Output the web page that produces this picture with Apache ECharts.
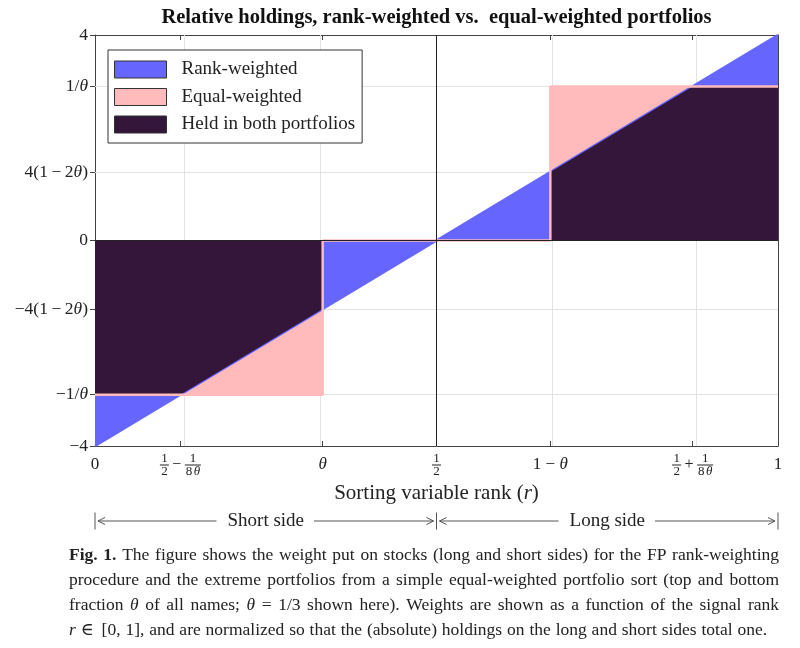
<!DOCTYPE html>
<html><head><meta charset="utf-8">
<script src="https://cdn.jsdelivr.net/npm/echarts@6/dist/echarts.min.js"></script>
<style>html,body{margin:0;padding:0;background:#fff}#c{width:800px;height:648px}</style>
</head><body><div id="c"></div>
<script>
// ---------- data ----------
const seriesNames = ['Rank-weighted', 'Equal-weighted', 'Held in both portfolios'];
const rankX = [0, 1];
const rankY = [-4, 4];
const equalX = [0, 1/3, 1/3, 2/3, 2/3, 1];
const equalY = [-3, -3, 0, 0, 3, 3];
const bothX = [0, 0.125, 1/3, 1/3, 2/3, 2/3, 0.875, 1];
const bothY = [-3, -3, -4/3, 0, 0, 4/3, 3, 3];
const xTickValues = [0, 0.125, 1/3, 0.5, 2/3, 0.875, 1];
const xTickLabels = ['0', '1/2 − 1/8θ', 'θ', '1/2', '1 − θ', '1/2 + 1/8θ', '1'];
const xInnerTicks = [0.125, 1/3, 2/3, 0.875];
const yTickValues = [-4, -3, -4/3, 0, 4/3, 3, 4];
const yTickLabels = ['−4', '−1/θ', '−4(1\u2009−\u20092θ)', '0', '4(1\u2009−\u20092θ)', '1/θ', '4'];
const yInnerTicks = [-3, -4/3, 4/3, 3];
const titleText = 'Relative holdings, rank-weighted vs.  equal-weighted portfolios';
const sideLabels = ['Short side', 'Long side'];
const captionLines = [
  '{b|Fig.} {b|1.} The figure shows the weight put on stocks (long and short sides) for the FP rank-weighting',
  'procedure and the extreme portfolios from a simple equal-weighted portfolio sort (top and bottom',
  'fraction {i|θ} of all names; {i|θ} = 1/3 shown here). Weights are shown as a function of the signal rank',
  '{i|r} ∈ [0, 1], and are normalized so that the (absolute) holdings on the long and short sides total one.'
];

// ---------- styling ----------
const SERIF = '"Liberation Serif", "DejaVu Serif", serif';
const BLUE = '#6666ff', PINK = '#ffbbbb', DARK = '#33163a', INK = '#222', AXIS = '#444', GRID = '#e3e3e3';
const pairs = (xs, ys) => xs.map((x, i) => [x, ys[i]]);

// x tick labels with stacked fractions (rich text)
const xRich = {
  s: {fontFamily: SERIF, fontSize: 17, lineHeight: 23, color: INK},
  si: {fontFamily: SERIF, fontSize: 17, fontStyle: 'italic', lineHeight: 23, color: INK},
  op: {fontFamily: SERIF, fontSize: 16, width: 16, align: 'center', lineHeight: 2, color: INK},
  sp: {fontFamily: SERIF, fontSize: 1, width: 16, lineHeight: 11},
  spb: {fontFamily: SERIF, fontSize: 1, width: 16, lineHeight: 11}
};
const CH = 6.8;
function ensure(name, style) { if (!xRich[name]) xRich[name] = style; return name; }
function xLabelRich(label) {
  if (label.indexOf('/') < 0) {
    return label.split(/(θ)/).filter(p => p.length).map(p => p === 'θ' ? '{si|θ}' : '{s|' + p + '}').join('');
  }
  let top = '', mid = '', bot = '';
  label.split(' ').forEach(t => {
    if (t.indexOf('/') >= 0) {
      const [n, d] = t.split('/');
      const w = Math.round(Math.max(n.length, d.length) * CH + 2);
      top += '{' + ensure('n' + w, {fontFamily: SERIF, fontSize: 13, width: w, align: 'center', lineHeight: 11, color: INK}) + '|' + n + '}';
      mid += '{' + ensure('b' + w, {width: w, height: 1, lineHeight: 2, fontSize: 1, backgroundColor: INK}) + '| }';
      const cw = w / d.length;
      d.split('').forEach(ch => {
        const it = ch === 'θ';
        const key = 'd' + String(cw).replace('.', '_') + (it ? 'i' : '');
        bot += '{' + ensure(key, {fontFamily: SERIF, fontSize: 13, fontStyle: it ? 'italic' : 'normal', width: cw, align: 'center', lineHeight: 11, color: INK}) + '|' + ch + '}';
      });
    } else {
      top += '{sp| }'; mid += '{op|' + t + '}'; bot += '{spb| }';
    }
  });
  return top + '\n' + mid + '\n' + bot;
}
// pre-build all rich styles before the option is handed over
const xLabelMarkup = xTickLabels.map(xLabelRich);
function yLabelRich(label) {
  return label.split(/(θ)/).filter(p => p.length).map(p => p === 'θ' ? '{yi|θ}' : '{y|' + p + '}').join('');
}
function lookup(vals, labels, v) {
  for (let i = 0; i < vals.length; i++) if (Math.abs(vals[i] - v) < 1e-6) return labels[i];
  return '';
}

const chart = echarts.init(document.getElementById('c'));
const option = {
  animation: false,
  backgroundColor: '#fff',
  grid: {left: 95, right: 22, top: 35, bottom: 202, containLabel: false},
  legend: {
    orient: 'vertical', left: 108, top: 50,
    data: seriesNames, icon: 'rect', itemWidth: 52, itemHeight: 17, itemGap: 8.5,
    padding: [10, 7, 9, 6],
    backgroundColor: '#fff', borderColor: '#333', borderWidth: 1, borderRadius: 0,
    itemStyle: {borderColor: '#333', borderWidth: 1},
    textStyle: {fontFamily: SERIF, fontSize: 19, lineHeight: 17, color: INK, padding: [0, 0, 0, 10]},
    selectedMode: false
  },
  xAxis: [{
    type: 'value', min: 0, max: 1, position: 'bottom',
    axisLine: {show: true, onZero: false, lineStyle: {color: AXIS, width: 1}},
    axisTick: {show: true, inside: true, length: 5, customValues: xInnerTicks, lineStyle: {color: AXIS}},
    axisLabel: {
      customValues: xTickValues, margin: 7, showMinLabel: true, showMaxLabel: true,
      formatter: v => lookup(xTickValues, xLabelMarkup, v), rich: xRich
    },
    splitLine: {show: false},
    name: '{a|Sorting variable rank (}{ai|r}{a|)}', nameLocation: 'middle', nameGap: 36,
    nameTextStyle: {rich: {
      a: {fontFamily: SERIF, fontSize: 21, color: INK},
      ai: {fontFamily: SERIF, fontSize: 21, fontStyle: 'italic', color: INK}
    }}
  }, {
    type: 'value', min: 0, max: 1, position: 'top',
    axisLine: {show: true, onZero: false, lineStyle: {color: AXIS, width: 1}},
    axisTick: {show: true, inside: true, length: 5, customValues: xInnerTicks, lineStyle: {color: AXIS}},
    axisLabel: {show: false}, splitLine: {show: false}
  }],
  yAxis: [{
    type: 'value', min: -4, max: 4, position: 'left',
    axisLine: {show: true, onZero: false, lineStyle: {color: AXIS, width: 1}},
    axisTick: {show: true, inside: false, length: 5, customValues: yTickValues, lineStyle: {color: AXIS}},
    axisLabel: {
      customValues: yTickValues, margin: 7, showMinLabel: true, showMaxLabel: true,
      formatter: v => yLabelRich(lookup(yTickValues, yTickLabels, v)),
      rich: {
        y: {fontFamily: SERIF, fontSize: 17.5, color: INK},
        yi: {fontFamily: SERIF, fontSize: 17.5, fontStyle: 'italic', color: INK}
      }
    },
    splitLine: {show: false}
  }, {
    type: 'value', min: -4, max: 4, position: 'right',
    axisLine: {show: true, onZero: false, lineStyle: {color: AXIS, width: 1}},
    axisTick: {show: true, inside: true, length: 5, customValues: yInnerTicks, lineStyle: {color: AXIS}},
    axisLabel: {show: false}, splitLine: {show: false}
  }],
  series: [
    {
      name: 'gridlines', type: 'line', data: [], z: 1, silent: true,
      markLine: {
        silent: true, symbol: ['none', 'none'], z: 1, animation: false,
        label: {show: false}, lineStyle: {color: GRID, type: 'solid', width: 1},
        data: xInnerTicks.map(v => ({xAxis: v})).concat(yInnerTicks.map(v => ({yAxis: v})))
      }
    },
    {
      name: seriesNames[1], type: 'line', z: 2, color: PINK, symbol: 'none', silent: true,
      data: pairs(equalX, equalY),
      lineStyle: {width: 0, color: PINK}, itemStyle: {color: PINK},
      areaStyle: {color: PINK, opacity: 1}
    },
    {
      name: seriesNames[0], type: 'line', z: 3, color: BLUE, symbol: 'none', silent: true,
      data: pairs(rankX, rankY),
      lineStyle: {width: 2.5, color: BLUE}, itemStyle: {color: BLUE},
      areaStyle: {color: BLUE, opacity: 1}
    },
    {
      name: seriesNames[2], type: 'line', z: 4, color: DARK, symbol: 'none', silent: true,
      data: pairs(bothX, bothY),
      lineStyle: {width: 0, color: DARK}, itemStyle: {color: DARK},
      areaStyle: {color: DARK, opacity: 1}
    },
    {
      name: 'Equal-weighted outline', type: 'line', z: 5, symbol: 'none', silent: true,
      data: pairs(equalX, equalY),
      lineStyle: {width: 2.5, color: PINK}, itemStyle: {color: PINK},
      markLine: {
        silent: true, symbol: ['none', 'none'], z: 6, animation: false,
        label: {show: false}, lineStyle: {color: INK, type: 'solid', width: 1},
        data: [{xAxis: 0.5}, {yAxis: 0}]
      }
    }
  ]
};
chart.setOption(option);

// ---------- annotations (title, side arrows, caption) ----------
const px = v => chart.convertToPixel({xAxisIndex: 0}, v);
const x0 = px(0), xm = px(0.5), x1 = px(1);
const ctx = document.createElement('canvas').getContext('2d');
const FAM = '"Liberation Serif"';
function fontOf(k, size) { return (k === 'i' ? 'italic ' : '') + (k === 'b' ? 'bold ' : '') + size + 'px ' + FAM; }
function segs(word) {
  const out = [];
  word.replace(/\{(\w)\|([^}]*)\}|([^{]+)/g, (m, k, t, p) => { out.push(k ? [k, t] : ['n', p]); return ''; });
  return out;
}
function measure(word, size) {
  return segs(word).reduce((s, [k, t]) => { ctx.font = fontOf(k, size); return s + ctx.measureText(t).width; }, 0);
}
const graphics = [];
// title
graphics.push({type: 'text', x: xm, y: 18, silent: true, style: {
  text: titleText, fill: '#111', font: 'bold 20.5px ' + SERIF, align: 'center', verticalAlign: 'middle'}});
// side arrows
const yA = 521, AR = '#555';
function vbar(x) { graphics.push({type: 'line', silent: true, shape: {x1: x, y1: yA - 8.5, x2: x, y2: yA + 8.5}, style: {stroke: AR, lineWidth: 1}}); }
function hline(a, b) { graphics.push({type: 'line', silent: true, shape: {x1: a, y1: yA, x2: b, y2: yA}, style: {stroke: AR, lineWidth: 1}}); }
function head(x, dir) { graphics.push({type: 'polyline', silent: true, shape: {points: [[x - dir * 7, yA - 3.5], [x, yA], [x - dir * 7, yA + 3.5]]}, style: {stroke: AR, lineWidth: 1, fill: null}}); }
function side(a, b, label) {
  const c = (a + b) / 2, fs = 19;
  ctx.font = fs + 'px ' + FAM;
  const hw = ctx.measureText(label).width / 2;
  graphics.push({type: 'text', x: c, y: yA, silent: true, style: {text: label, fill: INK, font: fs + 'px ' + SERIF, align: 'center', verticalAlign: 'middle'}});
  hline(a + 3, c - hw - 11); head(a + 3, -1);
  hline(c + hw + 10, b - 3); head(b - 3, 1);
}
vbar(x0); vbar(xm); vbar(x1);
side(x0, xm, sideLabels[0]);
side(xm, x1, sideLabels[1]);
// caption (justified)
const capSize = 17.5, capLeft = 69, capRight = 779, capY0 = 555, capDy = 25;
const capRich = {
  n: {fontFamily: SERIF, fontSize: capSize, fill: INK},
  b: {fontFamily: SERIF, fontSize: capSize, fontWeight: 'bold', fill: INK},
  i: {fontFamily: SERIF, fontSize: capSize, fontStyle: 'italic', fill: INK}
};
captionLines.forEach((line, li) => {
  const words = line.split(' ');
  const widths = words.map(w => measure(w, capSize));
  const total = widths.reduce((a, b) => a + b, 0);
  ctx.font = capSize + 'px ' + FAM;
  const natural = ctx.measureText(' ').width;
  const last = li === captionLines.length - 1;
  let gap = last ? natural + 0.5 : (capRight - capLeft - total) / (words.length - 1);
  if (last && capLeft + total + gap * (words.length - 1) > capRight) gap = (capRight - capLeft - total) / (words.length - 1);
  let x = capLeft;
  words.forEach((w, wi) => {
    const markup = segs(w).map(([k, t]) => '{' + k + '|' + t + '}').join('');
    graphics.push({type: 'text', x: x, y: capY0 + li * capDy, silent: true, style: {
      text: markup, rich: capRich, fontFamily: SERIF, fontSize: capSize, fill: INK, align: 'left', verticalAlign: 'middle'}});
    x += widths[wi] + gap;
  });
});
chart.setOption({graphic: {elements: graphics}});
</script>
</body></html>
